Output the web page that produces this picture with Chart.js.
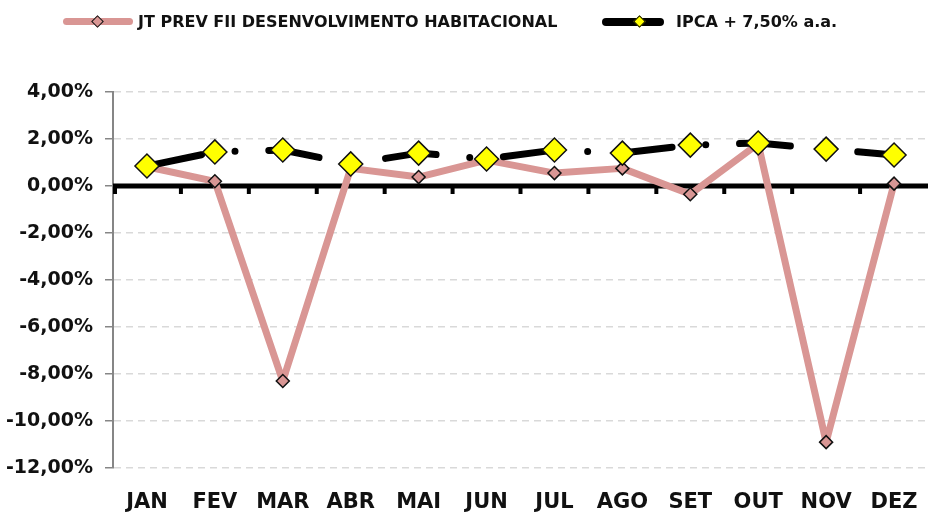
<!DOCTYPE html>
<html>
<head>
<meta charset="utf-8">
<script src="https://cdn.jsdelivr.net/npm/chart.js@4.4.1/dist/chart.umd.min.js"></script>
<style>
  html, body { margin: 0; padding: 0; background: #fff; }
  #wrap { position: relative; width: 928px; height: 514px; overflow: hidden; }
  #legend { position: absolute; top: 0; left: 0; width: 928px; height: 44px; font-family: "DejaVu Sans"; font-weight: bold; font-size: 16px; color: #111; }
  .lg { position: absolute; top: 11px; height: 22px; line-height: 22px; white-space: nowrap; }
  .ln { position: absolute; top: 18px; border-radius: 4px; }
  .dm { position: absolute; transform: rotate(45deg); box-sizing: border-box; }
</style>
</head>
<body>
<div id="wrap">
  <canvas id="myChart" width="928" height="514"></canvas>
  <div id="legend">
    <div class="ln" style="left:63px;width:70px;height:7px;background:#d99694;"></div>
    <div class="dm" style="left:93px;top:17px;width:9px;height:9px;background:#d99694;border:1.5px solid #111;"></div>
    <div class="lg" style="left:138px;">JT PREV FII DESENVOLVIMENTO HABITACIONAL</div>
    <div class="ln" style="left:602px;width:62px;height:8px;background:#000;"></div>
    <div class="dm" style="left:635px;top:17px;width:9px;height:9px;background:#ffff00;border:1.5px solid #000;"></div>
    <div class="lg" style="left:676px;">IPCA + 7,50% a.a.</div>
  </div>
</div>
<script>
var meses = ['JAN', 'FEV', 'MAR', 'ABR', 'MAI', 'JUN', 'JUL', 'AGO', 'SET', 'OUT', 'NOV', 'DEZ'];
var fundo = [0.82, 0.20, -8.30, 0.75, 0.38, 1.10, 0.55, 0.75, -0.35, 1.80, -10.90, 0.10];
var ipca = [0.85, 1.45, 1.53, 0.94, 1.40, 1.15, 1.53, 1.40, 1.74, 1.83, 1.57, 1.32];
var yTicks = [4, 2, 0, -2, -4, -6, -8, -10, -12];

var fonte = "DejaVu Sans";

// linha do zero e marcas entre os meses
var zeroLine = {
    id: 'zeroLine',
    beforeDatasetsDraw: function (chart) {
        var c = chart.ctx, x = chart.scales.x, y = chart.scales.y;
        var y0 = y.getPixelForValue(0);
        var passo = x.getPixelForValue(1) - x.getPixelForValue(0);
        c.save();
        c.strokeStyle = '#000';
        c.lineWidth = 5;
        c.beginPath();
        c.moveTo(chart.chartArea.left, y0);
        c.lineTo(chart.chartArea.right, y0);
        c.stroke();
        c.lineWidth = 4;
        for (var i = 0; i < meses.length; i++) {
            var px = x.getPixelForValue(i) - passo / 2;
            if (i == 0) px += 2;
            c.beginPath();
            c.moveTo(px, y0);
            c.lineTo(px, y0 + 8);
            c.stroke();
        }
        c.restore();
    }
};

var ctx = document.getElementById("myChart");
var myChart = new Chart(ctx, {
    type: 'line',
    data: {
        labels: meses,
        datasets: [{
            label: 'JT PREV FII DESENVOLVIMENTO HABITACIONAL',
            data: fundo,
            borderColor: '#d99694',
            borderWidth: 7,
            borderJoinStyle: 'round',
            pointStyle: 'rectRot',
            pointRadius: 6.5,
            pointBackgroundColor: '#d99694',
            pointBorderColor: '#111',
            pointBorderWidth: 1.5,
            tension: 0,
            order: 1
        }, {
            label: 'IPCA + 7,50% a.a.',
            data: ipca,
            borderColor: '#000',
            borderWidth: 7,
            borderDash: [51, 33.8, 0, 33.8],
            borderDashOffset: 113.9,
            borderCapStyle: 'round',
            borderJoinStyle: 'round',
            pointStyle: 'rectRot',
            pointRadius: 12,
            pointBackgroundColor: '#ffff00',
            pointBorderColor: '#111',
            pointBorderWidth: 1.5,
            tension: 0,
            order: 0
        }]
    },
    options: {
        responsive: false,
        animation: false,
        layout: { autoPadding: false, padding: { top: 92, right: 0, left: 0, bottom: 0 } },
        plugins: {
            legend: { display: false },
            tooltip: { enabled: false }
        },
        scales: {
            x: {
                offset: true,
                grid: { display: false, offset: true },
                border: { display: false },
                ticks: {
                    padding: 14,
                    color: '#111',
                    font: { family: fonte, weight: 'bold', size: 21 }
                },
                afterFit: function (s) {
                    s.height = 46;
                    s.paddingLeft = 0;
                    s.paddingRight = 0;
                }
            },
            y: {
                min: -12,
                max: 4,
                afterBuildTicks: function (s) {
                    s.ticks = yTicks.map(function (v) { return { value: v }; });
                },
                grid: {
                    color: '#d9d9d9',
                    lineWidth: 1.5,
                    tickColor: '#868686',
                    tickLength: 8,
                    tickWidth: 1.5
                },
                border: { color: '#868686', width: 2, dash: [7, 5] },
                ticks: {
                    padding: 12,
                    color: '#111',
                    font: { family: fonte, weight: 'bold', size: 19 },
                    callback: function (v) { return v.toFixed(2).replace('.', ',') + '%'; }
                },
                afterFit: function (s) { s.width = 113; }
            }
        }
    },
    plugins: [zeroLine]
});
</script>
</body>
</html>
